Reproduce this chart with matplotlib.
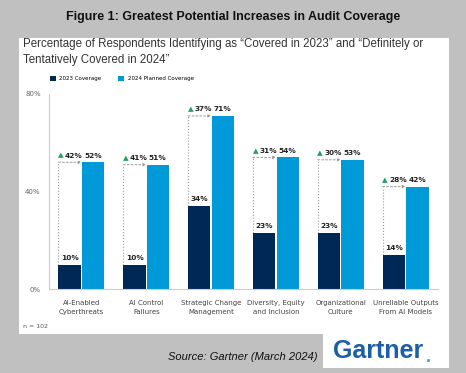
import matplotlib.pyplot as plt
from matplotlib.patches import Rectangle
import numpy as np

categories = ["AI-Enabled\nCyberthreats", "AI Control\nFailures", "Strategic Change\nManagement",
              "Diversity, Equity\nand Inclusion", "Organizational\nCulture", "Unreliable Outputs\nFrom AI Models"]
cov_2023 = [10, 10, 34, 23, 23, 14]
cov_2024 = [52, 51, 71, 54, 53, 42]
increase = [42, 41, 37, 31, 30, 28]
yticks = [0, 40, 80]

dark = "#002856"
light = "#009ad9"
green = "#23a05f"

fig = plt.figure(figsize=(4.66, 3.73), dpi=100)
fig.patch.set_facecolor("#c0c0c0")

# white panels
fig.patches.append(Rectangle((19 / 466, 1 - 334 / 373), 430 / 466, 296 / 373,
                             transform=fig.transFigure, facecolor="white", edgecolor="none", zorder=-2))
fig.patches.append(Rectangle((323 / 466, 1 - 368 / 373), 126 / 466, 34 / 373,
                             transform=fig.transFigure, facecolor="white", edgecolor="none", zorder=-2))

fig.text(0.5, 1 - 17 / 373, "Figure 1: Greatest Potential Increases in Audit Coverage",
         ha="center", va="center", fontsize=9, fontweight="bold", family="Liberation Sans", color="#111111")
fig.text(23 / 466, 1 - 44 / 373, "Percentage of Respondents Identifying as “Covered in 2023” and “Definitely or",
         ha="left", va="center", fontsize=8.3, family="Liberation Sans", color="#333333")
fig.text(23 / 466, 1 - 60 / 373, "Tentatively Covered in 2024”",
         ha="left", va="center", fontsize=8.3, family="Liberation Sans", color="#333333")

ax = fig.add_axes([49 / 466, 1 - 289 / 373, 389 / 466, 195 / 373], zorder=1)
ax.patch.set_alpha(0)
x = np.arange(len(categories))
w = 0.354
ax.bar(x - w / 2 - 0.006, cov_2023, w - 0.01, color=dark, label="2023 Coverage", zorder=2)
ax.bar(x + w / 2 + 0.006, cov_2024, w - 0.01, color=light, label="2024 Planned Coverage", zorder=2)

for i in range(len(categories)):
    left = x[i] - w
    ax.plot([left, left], [cov_2023[i], cov_2024[i]], ls=":", color="#999999", lw=0.8, zorder=1)
    ax.annotate("", xy=(x[i], cov_2024[i]), xytext=(left, cov_2024[i]),
                arrowprops=dict(arrowstyle="-|>", ls=(0, (2, 2)), color="#999999", lw=0.7,
                                mutation_scale=4, shrinkA=0, shrinkB=0))
    ax.text(x[i] - w / 2, cov_2023[i] + 1.5, f"{cov_2023[i]}%", ha="center", va="bottom",
            fontsize=5.3, fontweight="bold", color="#222222")
    ax.text(x[i] + w / 2, cov_2024[i] + 1.5, f"{cov_2024[i]}%", ha="center", va="bottom",
            fontsize=5.3, fontweight="bold", color="#222222")
    ax.text(x[i] - w / 2 + 0.06, cov_2024[i] + 1.5, f"{increase[i]}%", ha="center", va="bottom",
            fontsize=5.3, fontweight="bold", color="#222222")
    ax.text(x[i] - w / 2 - 0.14, cov_2024[i] + 1.5, "▲", ha="center", va="bottom",
            fontsize=5.3, color=green)

ax.set_xlim(-0.5, 5.5)
ax.set_ylim(0, 80)
ax.set_yticks(yticks)
ax.set_yticklabels([f"{v}%" for v in yticks])
ax.set_xticks(x)
ax.set_xticklabels(categories, fontsize=5, color="#444444", linespacing=1.6)
ax.tick_params(axis="y", length=0, labelsize=5, labelcolor="#666666", pad=6)
ax.tick_params(axis="x", length=0, pad=8)
for s in ["top", "right"]:
    ax.spines[s].set_visible(False)
ax.spines["left"].set_color("#cccccc")
ax.spines["bottom"].set_color("#cccccc")
ax.spines["left"].set_linewidth(0.8)
ax.spines["bottom"].set_linewidth(0.8)

ax.legend(loc="lower left", bbox_to_anchor=(-0.005, 1.05), ncol=2, frameon=False, fontsize=4,
          handlelength=1.1, handleheight=1.1, columnspacing=3, handletextpad=0.6, borderpad=0)

fig.text(23 / 466, 1 - 327 / 373, "n = 102", ha="left", va="center", fontsize=4.5, color="#555555")

fig.text(318 / 466, 1 - 357 / 373, "Source: Gartner (March 2024)", ha="right", va="center",
         fontsize=8, style="italic", family="Liberation Sans", color="#111111")
fig.text(333 / 466, 1 - 351 / 373, "Gartner", ha="left", va="center", fontsize=18,
         fontweight="bold", family="Liberation Sans", color="#1b5fa8")
fig.text(426 / 466, 1 - 358 / 373, ".", ha="left", va="center", fontsize=13,
         fontweight="bold", family="Liberation Sans", color="#3aa0e0")

fig.savefig("out.png", dpi=100, facecolor=fig.get_facecolor())
